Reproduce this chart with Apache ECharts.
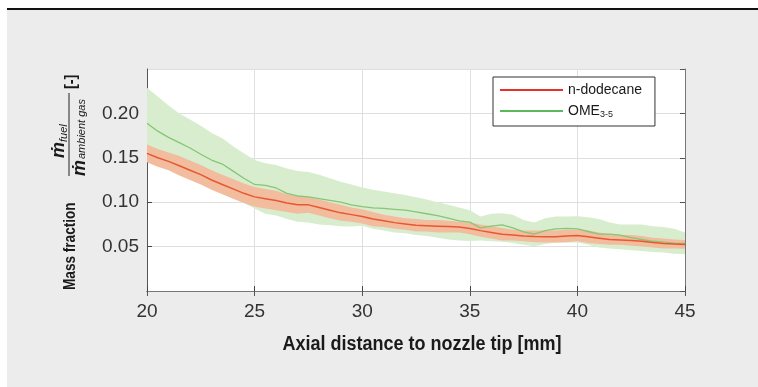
<!DOCTYPE html>
<html><head><meta charset="utf-8">
<script src="https://cdn.jsdelivr.net/npm/echarts@6/dist/echarts.min.js"></script>
<style>html,body{margin:0;padding:0;background:#fff}#c{width:758px;height:387px}</style>
</head><body><div id="c"></div>
<script>
// Axial distance to nozzle tip [mm]
const distance = [20,20.5,21,21.5,22,22.5,23,23.5,24,24.5,25,25.5,26,26.5,27,27.5,28,28.5,29,29.5,30,30.5,31,31.5,32,32.5,33,33.5,34,34.5,35,35.5,36,36.5,37,37.5,38,38.5,39,39.5,40,40.5,41,41.5,42,42.5,43,43.5,44,44.5,45];

const dodecaneMean  = [0.155,0.150,0.146,0.141,0.136,0.131,0.125,0.120,0.115,0.110,0.106,0.104,0.102,0.099,0.097,0.097,0.094,0.091,0.088,0.086,0.084,0.081,0.079,0.077,0.0755,0.074,0.0735,0.073,0.0725,0.072,0.0705,0.068,0.066,0.064,0.063,0.062,0.0615,0.0612,0.0612,0.062,0.0625,0.061,0.0595,0.058,0.0575,0.057,0.056,0.0545,0.0535,0.053,0.0525];
const dodecaneUpper = [0.165,0.160,0.156,0.152,0.147,0.142,0.136,0.131,0.126,0.121,0.117,0.115,0.113,0.109,0.107,0.106,0.103,0.100,0.097,0.094,0.092,0.089,0.086,0.084,0.082,0.081,0.080,0.080,0.079,0.078,0.077,0.075,0.073,0.071,0.069,0.068,0.068,0.068,0.068,0.069,0.069,0.068,0.066,0.064,0.063,0.063,0.062,0.060,0.059,0.058,0.0575];
const dodecaneLower = [0.145,0.140,0.136,0.130,0.125,0.120,0.114,0.109,0.104,0.099,0.095,0.093,0.091,0.089,0.087,0.088,0.085,0.082,0.079,0.078,0.076,0.073,0.072,0.070,0.069,0.067,0.067,0.066,0.066,0.066,0.064,0.061,0.059,0.057,0.057,0.056,0.055,0.0545,0.0545,0.055,0.056,0.054,0.053,0.052,0.052,0.051,0.050,0.049,0.048,0.048,0.0475];

const omeMean  = [0.189,0.180,0.173,0.167,0.161,0.154,0.1475,0.143,0.135,0.127,0.120,0.119,0.116,0.110,0.107,0.106,0.104,0.102,0.100,0.097,0.095,0.0935,0.093,0.092,0.091,0.089,0.087,0.085,0.082,0.079,0.0775,0.071,0.073,0.0745,0.071,0.0665,0.064,0.068,0.070,0.0705,0.070,0.067,0.064,0.064,0.063,0.060,0.058,0.056,0.055,0.054,0.0535];
const omeUpper = [0.229,0.219,0.209,0.200,0.193,0.186,0.178,0.172,0.163,0.155,0.1475,0.144,0.142,0.138,0.135,0.134,0.131,0.127,0.123,0.120,0.1165,0.114,0.112,0.110,0.108,0.1055,0.103,0.100,0.097,0.094,0.091,0.084,0.087,0.0875,0.086,0.080,0.077,0.082,0.084,0.084,0.0843,0.083,0.081,0.077,0.075,0.075,0.075,0.073,0.072,0.070,0.066];
const omeLower = [0.148,0.143,0.138,0.133,0.127,0.121,0.116,0.111,0.105,0.099,0.093,0.087,0.085,0.081,0.078,0.077,0.075,0.074,0.073,0.0725,0.0735,0.070,0.068,0.066,0.065,0.063,0.062,0.060,0.058,0.057,0.0564,0.057,0.056,0.0555,0.054,0.052,0.0505,0.053,0.0545,0.0545,0.0545,0.052,0.049,0.048,0.047,0.046,0.045,0.044,0.0433,0.042,0.0414];

const xTicks = [20,25,30,35,40,45];
const yTicks = [0.05,0.10,0.15,0.20];

const seriesNames = ['n-dodecane','OME3-5'];

const pair = (ys) => distance.map((x,i)=>[x, ys[i]]);
const band = (lo, hi) => distance.map((x,i)=>[x, lo[i], hi[i]]);

const REG = '"Liberation Sans",Arial,sans-serif';

function bandRenderer(color){
  return function(params, api){
    if (params.dataIndex !== 0) return null;
    const top = [], bottom = [];
    for (let i = 0; i < distance.length; i++){
      const lo = api.value(1, i), hi = api.value(2, i), x = api.value(0, i);
      top.push(api.coord([x, hi]));
      bottom.push(api.coord([x, lo]));
    }
    const pts = top.concat(bottom.reverse());
    return {type:'polygon', shape:{points:pts}, style:{fill:color}, silent:true};
  };
}

const chart = echarts.init(document.getElementById('c'), null, {renderer:'canvas'});

const baseX = {type:'value', min:20, max:45, interval:5};
const baseY = {type:'value', min:0, max:0.25, interval:0.05};

const option = {
  backgroundColor:'#ececec',
  animation:false,
  grid:{left:147, right:73, top:69, bottom:96, show:true, backgroundColor:'#ffffff', borderWidth:0},
  xAxis:[
    Object.assign({}, baseX, {position:'bottom',
      axisLine:{show:true, lineStyle:{color:'#555', width:1}},
      axisTick:{show:true, inside:true, length:5, lineStyle:{color:'#444'}},
      axisLabel:{show:true, margin:11, fontFamily:REG, fontSize:19, color:'#333',
        formatter:(v)=> xTicks.includes(v) ? String(v) : ''},
      splitLine:{show:true, lineStyle:{color:'#dfdfdf', width:1}}}),
    Object.assign({}, baseX, {position:'top',
      axisLine:{show:true, lineStyle:{color:'#777', width:1}},
      axisTick:{show:true, inside:true, length:5, lineStyle:{color:'#555'}},
      axisLabel:{show:false}, splitLine:{show:false}})
  ],
  yAxis:[
    Object.assign({}, baseY, {position:'left',
      axisLine:{show:true, lineStyle:{color:'#555', width:1}},
      axisTick:{show:true, inside:true, length:5, lineStyle:{color:'#444'}},
      axisLabel:{show:true, margin:8, fontFamily:REG, fontSize:19, color:'#333',
        showMinLabel:false, showMaxLabel:false,
        formatter:(v)=> yTicks.some(t=>Math.abs(t-v)<1e-9) ? v.toFixed(2) : ''},
      splitLine:{show:true, lineStyle:{color:'#dfdfdf', width:1}}}),
    Object.assign({}, baseY, {position:'right',
      axisLine:{show:true, lineStyle:{color:'#777', width:1}},
      axisTick:{show:true, inside:true, length:5, lineStyle:{color:'#555'}},
      axisLabel:{show:false}, splitLine:{show:false}})
  ],
  legend:{
    show:true, orient:'vertical', left:493, top:77,
    padding:[6,13,7,7], itemGap:6, itemWidth:63, itemHeight:2,
    backgroundColor:'#ffffff', borderColor:'#333', borderWidth:1, borderRadius:0,
    data:[
      {name:seriesNames[0], icon:'rect', itemStyle:{color:'#e5332a'}},
      {name:seriesNames[1], icon:'rect', itemStyle:{color:'#5cb85c'}}
    ],
    formatter:(n)=> n==='OME3-5' ? '{a|OME}{s|3-5}' : '{a|'+n+'}',
    textStyle:{fontFamily:REG, fontSize:13, color:'#1a1a1a',
      rich:{a:{fontFamily:REG, fontSize:14, color:'#1a1a1a', lineHeight:16},
            s:{fontFamily:REG, fontSize:9, color:'#1a1a1a', lineHeight:16, padding:[7,0,0,0]}}}
  },
  series:[
    {name:'omeBand', type:'custom', data:band(omeLower, omeUpper), encode:{x:0, y:[1,2]},
      renderItem:bandRenderer('#d8edcd'), silent:true, z:1},
    {name:'dodBand', type:'custom', data:band(dodecaneLower, dodecaneUpper), encode:{x:0, y:[1,2]},
      renderItem:bandRenderer('#f2bc9e'), silent:true, z:2},
    {name:seriesNames[1], type:'line', data:pair(omeMean), symbol:'none',
      lineStyle:{color:'#86c674', width:1.3}, itemStyle:{color:'#5cb85c'}, z:3},
    {name:seriesNames[0], type:'line', data:pair(dodecaneMean), symbol:'none',
      lineStyle:{color:'#e8582f', width:1.5}, itemStyle:{color:'#e5332a'}, z:4}
  ],
  graphic:[
    {type:'rect', shape:{x:0,y:0,width:758,height:8}, style:{fill:'#ffffff'}, silent:true},
    {type:'rect', shape:{x:0,y:0,width:7,height:387}, style:{fill:'#ffffff'}, silent:true},
    {type:'rect', shape:{x:7,y:8,width:751,height:2}, style:{fill:'#111111'}, silent:true},
    {type:'text', x:422, y:344, scaleX:0.9, style:{text:'Axial distance to nozzle tip [mm]', font:'bold 20px '+REG,
      fill:'#1a1a1a', align:'center', verticalAlign:'middle'}},
    {type:'group', x:70, y:290, rotation:Math.PI/2, children:[
      {type:'text', x:0, y:0, scaleX:0.8, style:{text:'Mass fraction', font:'bold 17px '+REG, fill:'#1a1a1a', align:'left', verticalAlign:'middle'}},
      {type:'line', shape:{x1:114,y1:-1,x2:197,y2:-1}, style:{stroke:'#222', lineWidth:1}},
      {type:'text', x:132, y:-2, style:{text:'ṁ', font:'italic bold 18px '+REG, fill:'#1a1a1a', align:'left', verticalAlign:'bottom'}},
      {type:'text', x:148, y:-1, style:{text:'fuel', font:'italic 11px '+REG, fill:'#1a1a1a', align:'left', verticalAlign:'bottom'}},
      {type:'text', x:114, y:1, style:{text:'ṁ', font:'italic bold 18px '+REG, fill:'#1a1a1a', align:'left', verticalAlign:'top'}},
      {type:'text', x:131, y:6, style:{text:'ambient gas', font:'italic 11px '+REG, fill:'#1a1a1a', align:'left', verticalAlign:'top'}},
      {type:'text', x:201, y:1, scaleX:0.85, style:{text:'[-]', font:'bold 17px '+REG, fill:'#1a1a1a', align:'left', verticalAlign:'middle'}}
    ]}
  ]
};
chart.setOption(option);
</script></body></html>
